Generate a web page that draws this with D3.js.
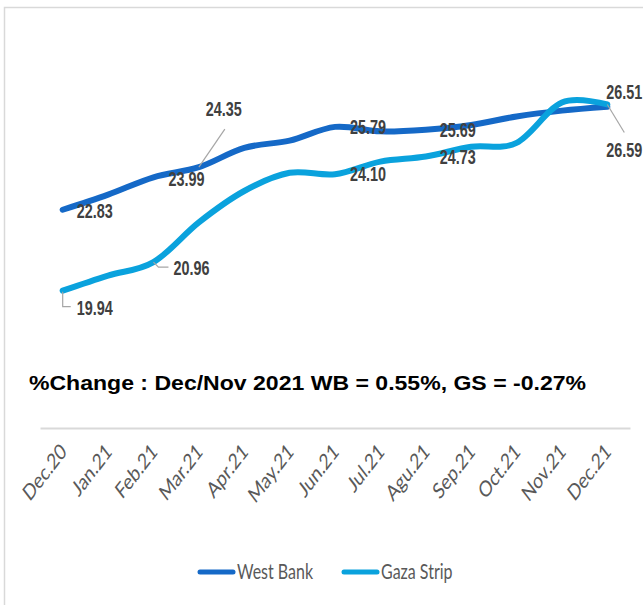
<!DOCTYPE html>
<html>
<head>
<meta charset="utf-8">
<script src="https://cdn.jsdelivr.net/npm/d3@7"></script>
<style>
  body { margin: 0; background: #fff; }
  svg { display: block; }
</style>
</head>
<body>
<div id="root"></div>
<script>
// chart data
const categories = ['Dec.20','Jan.21','Feb.21','Mar.21','Apr.21','May.21','Jun.21','Jul.21','Agu.21','Sep.21','Oct.21','Nov.21','Dec.21'];
const westBank = [22.83, 23.37, 23.99, 24.35, 25.04, 25.30, 25.79, 25.63, 25.69, 25.86, 26.16, 26.37, 26.51];
const gazaStrip = [19.94, 20.48, 20.96, 22.38, 23.50, 24.15, 24.10, 24.55, 24.73, 25.08, 25.22, 26.66, 26.59];
const seriesNames = ['West Bank', 'Gaza Strip'];
const yDomain = [15, 30];
const noteText = '%Change : Dec/Nov 2021 WB = 0.55%, GS = -0.27%';

// which points carry a label and where it sits (offsets from the point)
const wbLabels = [
  {i: 0, dx: 14, dy: 1},
  {i: 2, dx: 15, dy: 2},
  {i: 3, dx: 7, dy: -58, leader: [[0, 0], [26, -38]]},
  {i: 6, dx: 15, dy: 0},
  {i: 8, dx: 14, dy: 0},
  {i: 12, dx: -1, dy: -15}
];
const gsLabels = [
  {i: 0, dx: 14, dy: 17, leader: [[0, 1], [0, 16], [8, 16]]},
  {i: 2, dx: 20, dy: 6, leader: [[0, 0], [5, 5], [15, 5]]},
  {i: 6, dx: 15, dy: 0},
  {i: 8, dx: 14, dy: 0},
  {i: 12, dx: -1, dy: 45, leader: [[0, 0], [17, 28]]}
];

let width = 643, height = 605;
let colors = ['#1569c7', '#0aa2dd'];

var svg = d3.select('#root')
  .append('svg')
  .attr('width', width)
  .attr('height', height);

// chart frame
svg.append('rect')
  .attr('x', 4.5).attr('y', 7.5)
  .attr('width', 700).attr('height', 700)
  .attr('fill', 'none')
  .attr('stroke', '#d9d9d9')
  .attr('stroke-width', 1.5);

var xScale = d3.scaleBand()
  .domain(categories)
  .range([40, 630]);
var xc = c => xScale(c) + xScale.bandwidth() / 2;

var yScale = d3.scaleLinear()
  .domain(yDomain)
  .range([429, 9]);

// x axis
var xAxis = d3.axisBottom(xScale).tickSize(0).tickSizeOuter(0);
var gx = svg.append('g')
  .attr('transform', 'translate(0,428)')
  .call(xAxis);
gx.select('.domain').attr('stroke', '#d9d9d9').attr('stroke-width', 2);
gx.selectAll('text')
  .attr('x', 0).attr('y', 0).attr('dy', 0)
  .attr('text-anchor', 'end')
  .attr('transform', 'translate(5,25) scale(1,1.3) rotate(-45)')
  .style('font-family', 'Lato, "Liberation Sans", sans-serif')
  .style('font-size', '17px')
  .attr('fill', '#595959');

// lines
var line = d3.line()
  .x((d, i) => xc(categories[i]))
  .y(d => yScale(d))
  .curve(d3.curveCardinal.tension(0));

[westBank, gazaStrip].forEach((vals, k) => {
  svg.append('path')
    .datum(vals)
    .attr('d', line)
    .attr('fill', 'none')
    .attr('stroke', colors[k])
    .attr('stroke-width', 6)
    .attr('stroke-linecap', 'round')
    .attr('stroke-linejoin', 'round');
});

// data labels
function drawLabels(vals, specs) {
  specs.forEach(s => {
    var px = xc(categories[s.i]), py = yScale(vals[s.i]);
    if (s.leader) {
      svg.append('polyline')
        .attr('points', s.leader.map(p => [px + p[0], py + p[1]].join(',')).join(' '))
        .attr('fill', 'none')
        .attr('stroke', '#a6a6a6')
        .attr('stroke-width', 1.2);
    }
    svg.append('text')
      .attr('transform', 'translate(' + [px + s.dx, py + s.dy] + ') scale(0.72,1)')
      .attr('dy', '0.36em')
      .style('font-family', '"Liberation Sans", Arial, sans-serif')
      .style('font-weight', 'bold')
      .style('font-size', '20px')
      .attr('fill', '#404040')
      .text(d3.format('.2f')(vals[s.i]));
  });
}
drawLabels(westBank, wbLabels);
drawLabels(gazaStrip, gsLabels);

// note
svg.append('text')
  .attr('x', 29).attr('y', 390)
  .attr('textLength', 557)
  .attr('lengthAdjust', 'spacingAndGlyphs')
  .style('font-family', '"Liberation Sans", Arial, sans-serif')
  .style('font-weight', 'bold')
  .style('font-size', '20px')
  .attr('fill', '#000')
  .text(noteText);

// legend
var legendX = [198, 342];
seriesNames.forEach((name, k) => {
  var g = svg.append('g').attr('transform', 'translate(' + legendX[k] + ',572)');
  g.append('line')
    .attr('x1', 2).attr('x2', 35)
    .attr('stroke', colors[k])
    .attr('stroke-width', 5)
    .attr('stroke-linecap', 'round');
  g.append('text')
    .attr('transform', 'translate(39,0) scale(1,1.3)')
    .attr('dy', '0.35em')
    .style('font-family', 'Lato, "Liberation Sans", sans-serif')
    .style('font-size', '16px')
    .attr('fill', '#595959')
    .text(name);
});
</script>
</body>
</html>
